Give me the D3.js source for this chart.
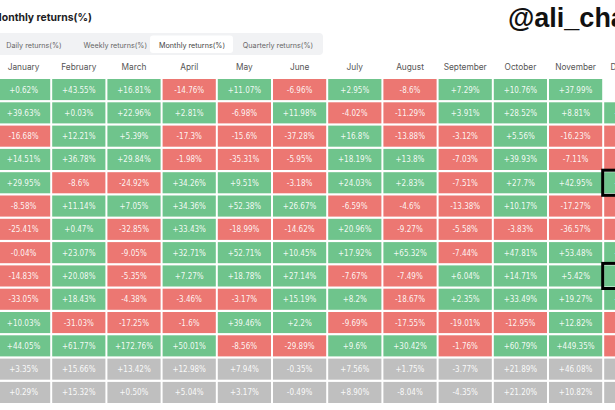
<!DOCTYPE html>
<html>
<head>
<meta charset="utf-8">
<script src="https://cdn.jsdelivr.net/npm/d3@7"></script>
<style>
  html, body { margin: 0; padding: 0; background: #ffffff; overflow: hidden; }
  svg { display: block; }
</style>
</head>
<body>
<svg id="chart" width="615" height="410"></svg>
<script>
// ---- Data ----
const months = ["January","February","March","April","May","June","July","August","September","October","November","December"];
const tabs = ["Daily returns(%)","Weekly returns(%)","Monthly returns(%)","Quarterly returns(%)"];
const selectedTab = "Monthly returns(%)";
const rowIds = ["2024","2023","2022","2021","2020","2019","2018","2017","2016","2015","2014","2013","Average","Median"];
const summaryRows = ["Average","Median"];
const highlighted = [["2020","December"],["2016","December"]];

const r2024 = [0.62, 43.55, 16.81, -14.76, 11.07, -6.96, 2.95, -8.6, 7.29, 10.76, 37.99, null];
const r2023 = [39.63, 0.03, 22.96, 2.81, -6.98, 11.98, -4.02, -11.29, 3.91, 28.52, 8.81, 12.18];
const r2022 = [-16.68, 12.21, 5.39, -17.3, -15.6, -37.28, 16.8, -13.88, -3.12, 5.56, -16.23, -3.59];
const r2021 = [14.51, 36.78, 29.84, -1.98, -35.31, -5.95, 18.19, 13.8, -7.03, 39.93, -7.11, -18.9];
const r2020 = [29.95, -8.6, -24.92, 34.26, 9.51, -3.18, 24.03, 2.83, -7.51, 27.7, 42.95, 47.73];
const r2019 = [-8.58, 11.14, 7.05, 34.36, 52.38, 26.67, -6.59, -4.6, -13.38, 10.17, -17.27, -5.15];
const r2018 = [-25.41, 0.47, -32.85, 33.43, -18.99, -14.62, 20.96, -9.27, -5.58, -3.83, -36.57, -5.89];
const r2017 = [-0.04, 23.07, -9.05, 32.71, 52.71, 10.45, 17.92, 65.32, -7.44, 47.81, 53.48, 38.89];
const r2016 = [-14.83, 20.08, -5.35, 7.27, 18.78, 27.14, -7.67, -7.49, 6.04, 14.71, 5.42, 30.8];
const r2015 = [-33.05, 18.43, -4.38, -3.46, -3.17, 15.19, 8.2, -18.67, 2.35, 33.49, 19.27, 13.83];
const r2014 = [10.03, -31.03, -17.25, -1.6, 39.46, 2.2, -9.69, -17.55, -19.01, -12.95, 12.82, -15.11];
const r2013 = [44.05, 61.77, 172.76, 50.01, -8.56, -29.89, 9.6, 30.42, -1.76, 60.79, 449.35, -34.81];
const rAverage = [3.35, 15.66, 13.42, 12.98, 7.94, -0.35, 7.56, 1.75, -3.77, 21.89, 46.08, 4.87];
const rMedian = [0.29, 15.32, 0.50, 5.04, 3.17, -0.49, 8.90, -8.04, -4.35, 21.20, 10.82, -3.59];

const rowValues = [r2024, r2023, r2022, r2021, r2020, r2019, r2018, r2017, r2016, r2015, r2014, r2013, rAverage, rMedian];

// ---- Build cells ----
const cells = [];
rowIds.forEach((id, i) => {
  rowValues[i].forEach((v, j) => {
    if (v === null) return;
    cells.push({ row: id, month: months[j], value: v, summary: summaryRows.includes(id) });
  });
});

// ---- Scales ----
const svg = d3.select("#chart");
const colStep = 55.2, colGap = 2, x0 = -3;
const rowStep = 23.3, rowGap = 2.2, y0 = 79;

const x = d3.scaleBand()
  .domain(months)
  .range([x0, x0 + months.length * colStep - colGap])
  .paddingInner(colGap / colStep)
  .paddingOuter(0);

const y = d3.scaleBand()
  .domain(rowIds)
  .range([y0, y0 + rowIds.length * rowStep - rowGap])
  .paddingInner(rowGap / rowStep)
  .paddingOuter(0);

const color = d3.scaleThreshold().domain([0]).range(["#ec7772", "#6fc48c"]);
const grey = "#bfbfbf";

const fmt = (d) => {
  const s = d.summary ? Math.abs(d.value).toFixed(2) : String(Math.abs(d.value));
  return (d.value < 0 ? "-" : "+") + s + "%";
};

// ---- Title & watermark ----
svg.append("text")
  .attr("x", 92).attr("y", 21)
  .attr("text-anchor", "end")
  .attr("font-family", "Inter, 'Noto Sans', sans-serif")
  .attr("font-weight", 700)
  .attr("font-size", 10.4)
  .attr("fill", "#1d1d1f")
  .text("Monthly returns(%)");

svg.append("text")
  .attr("x", 508).attr("y", 27)
  .attr("font-family", "'Liberation Sans', Arial, sans-serif")
  .attr("font-weight", 700)
  .attr("font-size", 27)
  .attr("fill", "#111")
  .text("@ali_charts");

// ---- Tabs ----
svg.append("rect")
  .attr("x", -6).attr("y", 33).attr("width", 329).attr("height", 22)
  .attr("rx", 4).attr("fill", "#f1f2f4");

const tabX = d3.scalePoint().domain(tabs).range([34, 278]);
svg.append("rect")
  .attr("x", 150).attr("y", 35.5).attr("width", 83).attr("height", 17.5)
  .attr("rx", 3).attr("fill", "#ffffff");

svg.selectAll("text.tab")
  .data(tabs)
  .join("text")
  .attr("class", "tab")
  .attr("x", d => d === selectedTab ? 192 : tabX(d))
  .attr("y", 47.5)
  .attr("text-anchor", "middle")
  .attr("font-family", "Inter, 'Noto Sans', sans-serif")
  .attr("font-size", 7.2)
  .attr("fill", d => d === selectedTab ? "#444" : "#666")
  .text(d => d);

// ---- Month header ----
svg.selectAll("text.month")
  .data(months)
  .join("text")
  .attr("class", "month")
  .attr("x", d => x(d) + x.bandwidth() / 2)
  .attr("y", 70)
  .attr("text-anchor", "middle")
  .attr("font-family", "Inter, 'Noto Sans', sans-serif")
  .attr("font-size", 8.3)
  .attr("fill", "#555")
  .text(d => d);

// ---- Cells ----
const g = svg.append("g");
g.selectAll("rect.cell")
  .data(cells)
  .join("rect")
  .attr("class", "cell")
  .attr("x", d => x(d.month))
  .attr("y", d => y(d.row))
  .attr("width", x.bandwidth())
  .attr("height", y.bandwidth())
  .attr("fill", d => d.summary ? grey : color(d.value));

g.selectAll("text.val")
  .data(cells)
  .join("text")
  .attr("class", "val")
  .attr("x", d => x(d.month) + x.bandwidth() / 2)
  .attr("y", d => y(d.row) + y.bandwidth() / 2 + 3)
  .attr("text-anchor", "middle")
  .attr("font-family", "'DejaVu Sans Condensed', Roboto, sans-serif")
  .attr("font-size", 8)
  .attr("fill", "#ffffff")
  .attr("fill-opacity", 0.92)
  .text(fmt);

// ---- Highlight boxes ----
svg.selectAll("rect.hl")
  .data(highlighted)
  .join("rect")
  .attr("class", "hl")
  .attr("x", d => x(d[1]) - 1.5)
  .attr("y", d => y(d[0]) - 2)
  .attr("width", x.bandwidth() + 3)
  .attr("height", y.bandwidth() + 4)
  .attr("fill", "none")
  .attr("stroke", "#000")
  .attr("stroke-width", 3);
</script>
</body>
</html>
